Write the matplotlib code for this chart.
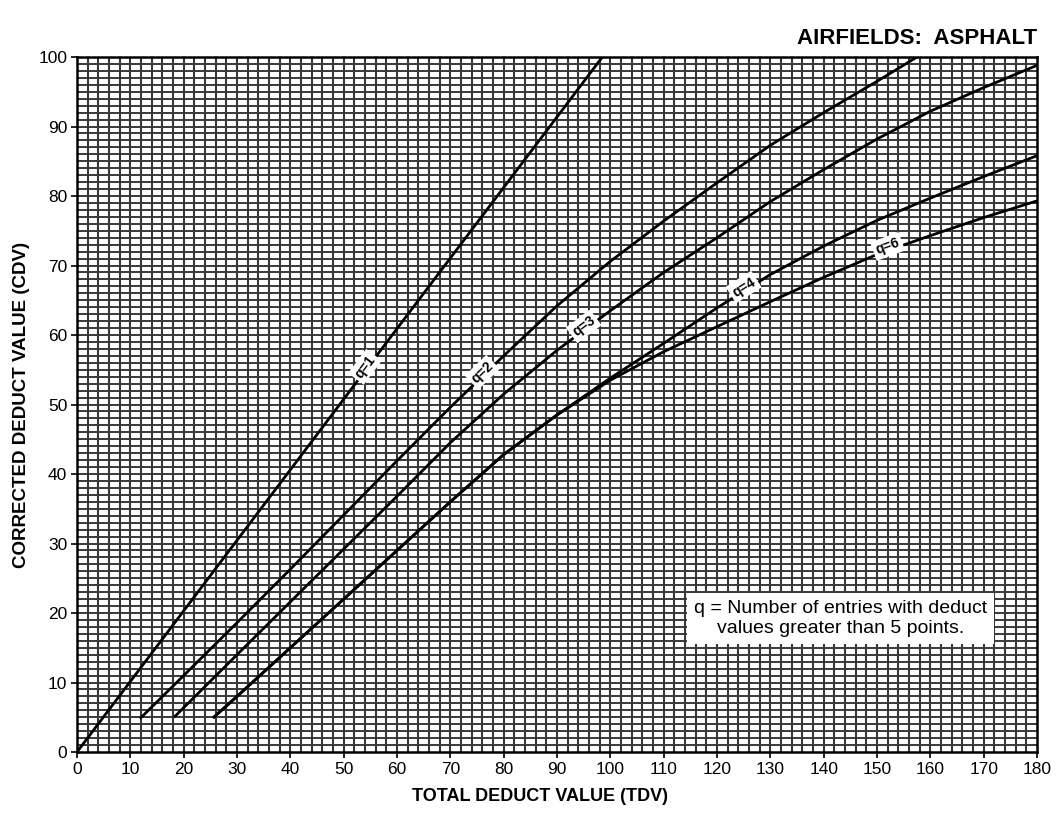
import numpy as np
import matplotlib
matplotlib.use('Agg')
import matplotlib.pyplot as plt

plt.rcParams['font.family'] = ['Liberation Sans Narrow', 'Liberation Sans', 'DejaVu Sans']

# curves (TDV -> CDV)
tdv_q1 = [0, 98.5]
cdv_q1 = [0, 100]

tdv_q2 = [11.8, 20, 30, 40, 50, 60, 70, 80, 90, 100, 110, 120, 130, 140, 150, 157.5]
cdv_q2 = [4.8, 11.0, 18.6, 26.3, 34.1, 41.9, 49.6, 57.0, 64.2, 70.6, 76.4, 81.9, 87.3, 92.0, 96.5, 100]

tdv_q3 = [18.2, 30, 40, 50, 60, 70, 80, 90, 100, 110, 120, 130, 140, 150, 160, 170, 180]
cdv_q3 = [5.0, 14.0, 21.6, 29.2, 36.8, 44.5, 51.5, 57.8, 63.5, 69.0, 74.0, 79.2, 83.8, 88.2, 92.2, 95.6, 98.8]

tdv_q4 = [25.5, 30, 40, 50, 60, 70, 80, 90, 100, 110, 120, 130, 140, 150, 160, 170, 180]
cdv_q4 = [4.9, 8.0, 15.0, 22.0, 29.0, 36.0, 42.8, 48.5, 53.8, 58.8, 63.9, 68.7, 72.8, 76.5, 79.7, 82.8, 85.8]

tdv_q6 = [25.5, 30, 40, 50, 60, 70, 80, 90, 100, 110, 120, 130, 140, 150, 160, 170, 180]
cdv_q6 = [4.9, 8.0, 15.0, 22.0, 29.0, 36.0, 42.8, 48.5, 53.5, 57.6, 61.2, 64.8, 68.3, 71.6, 74.3, 76.9, 79.3]

curves = [
    ('q=1', tdv_q1, cdv_q1, 54),
    ('q=2', tdv_q2, cdv_q2, 76),
    ('q=3', tdv_q3, cdv_q3, 95),
    ('q=4', tdv_q4, cdv_q4, 125),
    ('q=6', tdv_q6, cdv_q6, 152),
]

fig = plt.figure(figsize=(10.59, 8.16), dpi=100)
ax = fig.add_axes([0.0727, 0.0784, 0.9065, 0.8517])
ax.set_xlim(0, 180)
ax.set_ylim(0, 100)

# dense graph paper grid
for gx in np.arange(2, 180, 2):
    ax.axvline(gx, color='0.22', lw=1.5, zorder=1)
for gy in np.arange(1, 100, 1):
    ax.axhline(gy, color='0.22', lw=1.4, zorder=1)

for name, xs, ys, lx in curves:
    ax.plot(xs, ys, color='black', lw=2.0, zorder=3, solid_capstyle='butt')
    ly = np.interp(lx, xs, ys)
    slope = (np.interp(lx + 3, xs, ys) - np.interp(lx - 3, xs, ys)) / 6
    ang = np.degrees(np.arctan(slope))
    ax.text(lx, ly + 0.6, name, fontsize=10, fontweight='bold', ha='center', va='center',
            rotation=ang, transform_rotates_text=True, rotation_mode='anchor', zorder=5,
            bbox=dict(boxstyle='square,pad=0.2', fc='white', ec='none'))

ax.text(143.2, 19.2, 'q = Number of entries with deduct\nvalues greater than 5 points.',
        fontsize=14, ha='center', va='center', linespacing=1.25, zorder=5,
        bbox=dict(boxstyle='square,pad=0.35', fc='white', ec='none'))

ax.set_xticks(np.arange(0, 181, 10))
ax.set_yticks(np.arange(0, 101, 10))
ax.tick_params(direction='out', length=4, width=1.2, labelsize=12.5, pad=3)
for s in ax.spines.values():
    s.set_linewidth(1.8)

ax.set_xlabel('TOTAL DEDUCT VALUE (TDV)', fontsize=13, fontweight='bold', labelpad=10)
ax.xaxis.set_label_coords(0.482, -0.052)
ax.set_ylabel('CORRECTED DEDUCT VALUE (CDV)', fontsize=13.5, fontweight='bold', labelpad=6)
ax.text(1.0, 1.012, 'AIRFIELDS:  ASPHALT', transform=ax.transAxes, ha='right', va='bottom',
        fontsize=16, fontweight='bold')

fig.savefig('out.png', dpi=100)
